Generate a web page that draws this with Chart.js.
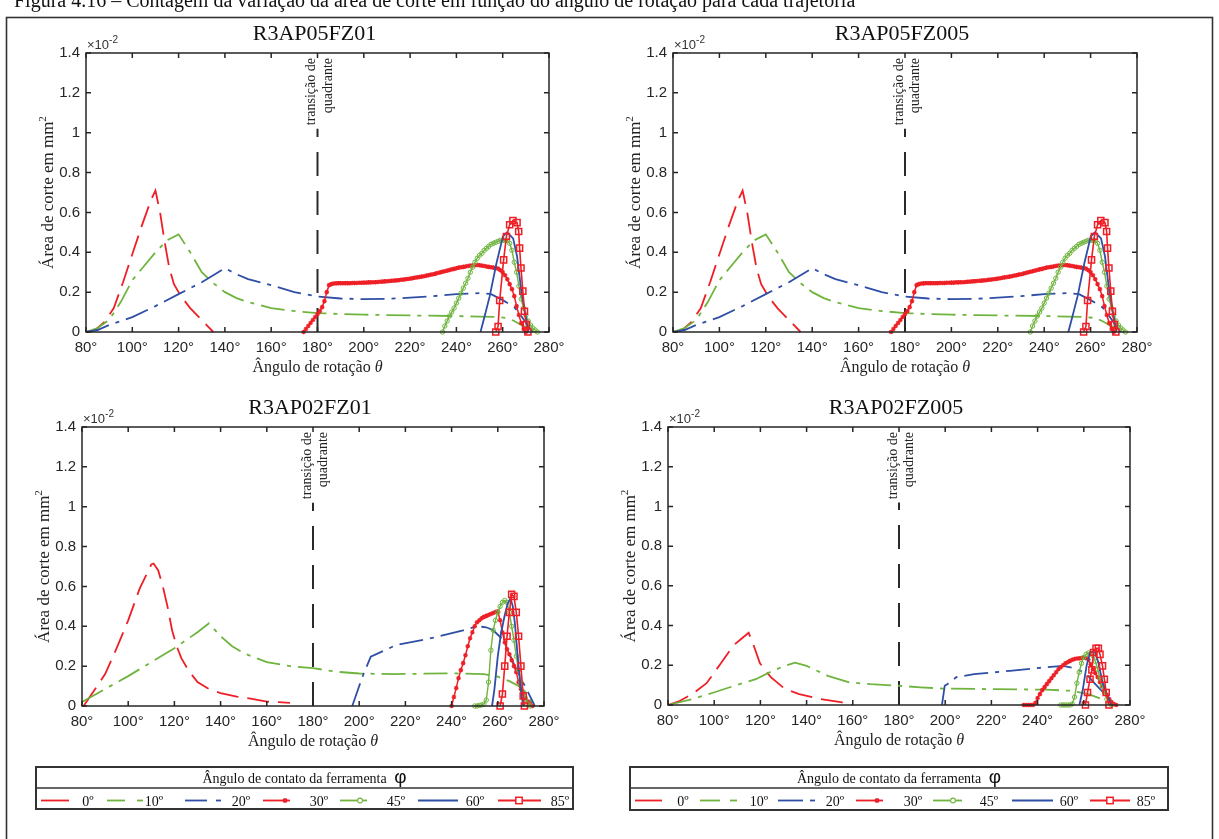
<!DOCTYPE html>
<html><head><meta charset="utf-8">
<script src="https://cdn.jsdelivr.net/npm/chart.js@4.4.1/dist/chart.umd.min.js"></script>
<style>
html,body{margin:0;padding:0;background:#fff;}
#root{position:relative;width:1219px;height:839px;overflow:hidden;background:#fff;}
#overlay{position:absolute;left:0;top:0;pointer-events:none;}
</style></head>
<body><div id="root"></div>
<script>
// ---------------- data ----------------
const X_MIN = 80, X_MAX = 280;
const X_TICKS = [80,100,120,140,160,180,200,220,240,260,280];
const X_TICK_LABELS = ['80°','100°','120°','140°','160°','180°','200°','220°','240°','260°','280°'];
const Y_MIN = 0, Y_MAX = 1.4;
const Y_TICKS = [0,0.2,0.4,0.6,0.8,1,1.2,1.4];
const Y_TICK_LABELS = ['0','0.2','0.4','0.6','0.8','1','1.2','1.4'];
const SERIES_LABELS = ['0º','10º','20º','30º','45º','60º','85º'];
const PLOT_TITLES = ['R3AP05FZ01','R3AP05FZ005','R3AP02FZ01','R3AP02FZ005'];
const QUADRANT_LINE = [[180,0],[180,1.02]];

// Plot 1: R3AP05FZ01 (values x 10^-2 mm^2)
const P1_0 = [[80,0],[84,0.01],[88,0.05],[92,0.12],[96,0.25],[100,0.39],[104,0.53],[108,0.66],[110,0.71],[112,0.6],[114,0.45],[116,0.32],[118,0.24],[121,0.18],[125,0.12],[130,0.06],[135,0]];
const P1_10 = [[80,0],[85,0.02],[90,0.06],[95,0.15],[100,0.26],[105,0.33],[110,0.4],[115,0.46],[120,0.49],[125,0.4],[130,0.3],[135,0.245],[140,0.2],[145,0.17],[150,0.15],[160,0.12],[170,0.105],[180,0.095],[190,0.09],[200,0.087],[220,0.083],[240,0.08],[250,0.077],[258,0.075],[262,0.07],[265,0.055],[268,0.035],[271,0.02],[274,0.008],[276,0]];
const P1_20 = [[80,0],[85,0.01],[90,0.035],[100,0.075],[110,0.13],[120,0.19],[130,0.25],[135,0.285],[140,0.32],[145,0.29],[150,0.265],[160,0.235],[170,0.2],[180,0.178],[190,0.168],[200,0.165],[210,0.166],[220,0.172],[230,0.18],[240,0.19],[250,0.195],[255,0.19],[260,0.16],[265,0.125],[268,0.08],[271,0.03],[273,0]];
const P1_30 = [[174,0],[175,0.015],[176,0.03],[177,0.045],[178,0.06],[179,0.075],[180,0.09],[181,0.105],[182,0.125],[183,0.155],[184,0.2],[185,0.235],[186,0.24],[187,0.243],[188,0.244],[189,0.245],[190,0.245],[191,0.245],[192,0.245],[193,0.245],[194,0.245],[195,0.246],[196,0.246],[197,0.246],[198,0.247],[199,0.247],[200,0.248],[201,0.248],[202,0.249],[203,0.249],[204,0.25],[205,0.25],[206,0.251],[207,0.252],[208,0.253],[209,0.254],[210,0.255],[211,0.256],[212,0.257],[213,0.258],[214,0.259],[215,0.26],[216,0.262],[217,0.263],[218,0.265],[219,0.266],[220,0.268],[221,0.27],[222,0.272],[223,0.274],[224,0.276],[225,0.278],[226,0.28],[227,0.283],[228,0.285],[229,0.288],[230,0.29],[231,0.293],[232,0.296],[233,0.299],[234,0.302],[235,0.305],[236,0.308],[237,0.311],[238,0.314],[239,0.317],[240,0.32],[241,0.323],[242,0.325],[243,0.327],[244,0.329],[245,0.331],[246,0.333],[247,0.334],[248,0.335],[249,0.336],[250,0.335],[251,0.333],[252,0.331],[253,0.329],[254,0.327],[255,0.325],[256,0.323],[257,0.321],[258,0.318],[259,0.31],[260,0.3],[261,0.285],[262,0.265],[263,0.24],[264,0.215],[265,0.18],[266,0.13],[267,0.085],[268,0.045],[269,0.015],[270,0]];
const P1_45 = [[234,0],[235,0.03],[236,0.055],[237,0.08],[238,0.1],[239,0.12],[240,0.145],[241,0.17],[242,0.195],[243,0.22],[244,0.245],[245,0.27],[246,0.3],[247,0.325],[248,0.35],[249,0.37],[250,0.385],[251,0.395],[252,0.41],[253,0.42],[254,0.43],[255,0.44],[256,0.445],[257,0.45],[258,0.455],[259,0.46],[260,0.46],[261,0.46],[262,0.458],[263,0.445],[264,0.41],[265,0.35],[266,0.3],[267,0.23],[268,0.165],[269,0.12],[270,0.085],[271,0.055],[272,0.035],[273,0.02],[274,0.01],[275,0]];
const P1_60 = [[250.4,0],[252,0.07],[254.4,0.18],[257.3,0.345],[260.1,0.48],[261.9,0.5],[264.5,0.47],[266.2,0.38],[268,0.21],[270.2,0.06],[271.2,0]];
const P1_85 = [[257,0],[258,0.028],[258.7,0.158],[260.4,0.362],[261.6,0.479],[263,0.538],[264.4,0.559],[266.2,0.549],[266.9,0.504],[267.3,0.421],[267.9,0.321],[268.7,0.205],[269.4,0.104],[270.2,0.037],[270.9,0]];

// Plot 2: R3AP05FZ005 (read as identical to plot 1)
const P2_0 = P1_0, P2_10 = P1_10, P2_20 = P1_20, P2_30 = P1_30, P2_45 = P1_45, P2_60 = P1_60, P2_85 = P1_85;

// Plot 3: R3AP02FZ01
const P3_0 = [[80.7,0],[86,0.09],[90,0.16],[95,0.29],[100,0.43],[105,0.59],[110,0.71],[111,0.715],[113,0.68],[115,0.6],[117,0.5],[119,0.38],[121,0.3],[123,0.24],[126,0.18],[130,0.12],[135,0.085],[140,0.065],[147,0.047],[153,0.037],[160,0.022],[165,0.019],[170,0.016]];
const P3_10 = [[80,0.02],[90,0.085],[100,0.15],[110,0.22],[120,0.29],[130,0.37],[135,0.415],[140,0.35],[145,0.3],[150,0.265],[160,0.22],[170,0.2],[180,0.19],[190,0.172],[200,0.163],[215,0.16],[240,0.164],[254,0.16],[260,0.147],[265,0.125],[269,0.1],[272,0.07],[274,0.03],[275.5,0]];
const P3_20 = [[197,0],[200,0.1],[202,0.164],[205,0.247],[216,0.306],[231,0.34],[245,0.38],[251,0.4],[255,0.395],[258,0.38],[262.5,0.33],[267,0.21],[270,0.14],[272.6,0.08],[274.8,0.03],[276,0]];
const P3_30 = [[240,0],[241,0.045],[242,0.09],[243,0.14],[244,0.18],[245,0.215],[246,0.255],[247,0.3],[248,0.34],[249,0.37],[250,0.4],[251,0.42],[252,0.43],[253,0.44],[254,0.447],[255,0.452],[256,0.457],[257,0.462],[258,0.467],[259,0.472],[260,0.475],[261,0.43],[262,0.37],[263,0.32],[264,0.285],[265,0.26],[266,0.23],[267,0.2],[268,0.17],[269,0.12],[270,0.085],[271,0.06],[272,0.04],[273,0.022],[274,0.01],[275,0]];
const P3_45 = [[250,0],[251,0],[252,0.003],[253,0.005],[254,0.01],[255,0.03],[256,0.12],[257,0.28],[258,0.38],[259,0.43],[260,0.47],[261,0.5],[262,0.52],[263,0.53],[264,0.52],[265,0.47],[266,0.4],[267,0.33],[268,0.25],[269,0.18],[270,0.12],[271,0.07],[272,0.035],[273,0.01],[274,0]];
const P3_60 = [[257.5,0],[258.5,0.08],[260,0.25],[261.4,0.365],[262.9,0.45],[264.3,0.515],[265.5,0.54],[266.5,0.5],[267.4,0.415],[268.6,0.25],[270,0.08],[271,0]];
const P3_85 = [[261,0],[262,0.06],[263,0.2],[264,0.35],[265,0.47],[266,0.56],[267,0.55],[268,0.47],[269,0.35],[270,0.2],[271,0.05],[271.5,0]];

// Plot 4: R3AP02FZ005
const P4_0 = [[80,0],[85,0.02],[90.5,0.055],[96.7,0.11],[102.9,0.21],[108.3,0.3],[111.4,0.33],[114.9,0.364],[116.8,0.31],[119.8,0.21],[124.5,0.14],[130.7,0.08],[136.8,0.055],[146.1,0.03],[155.4,0.013],[160,0]];
const P4_10 = [[80,0],[90.5,0.03],[99.8,0.063],[108.8,0.097],[118,0.13],[125,0.17],[130,0.195],[135,0.213],[140,0.197],[149.2,0.147],[158.5,0.114],[167.7,0.105],[179.8,0.097],[189.3,0.089],[198.6,0.083],[220,0.08],[243.4,0.077],[254.2,0.072],[262,0.055],[269.7,0.022],[274.3,0]];
const P4_20 = [[198.6,0],[199.8,0.097],[200.9,0.105],[204.8,0.14],[212.5,0.155],[228,0.172],[243.4,0.19],[251.1,0.197],[254.2,0.19],[260.4,0.165],[265,0.105],[269.7,0.047],[272.7,0.01],[273.5,0]];
const P4_30 = [[234,0],[235,0],[236,0],[237,0],[238,0],[239,0.01],[240,0.035],[241,0.055],[242,0.075],[243,0.09],[244,0.105],[245,0.12],[246,0.135],[247,0.15],[248,0.165],[249,0.18],[250,0.19],[251,0.2],[252,0.21],[253,0.215],[254,0.222],[255,0.228],[256,0.232],[257,0.234],[258,0.235],[259,0.237],[260,0.238],[261,0.236],[262,0.228],[263,0.205],[264,0.18],[265,0.16],[266,0.14],[267,0.115],[268,0.095],[269,0.07],[270,0.05],[271,0.03],[272,0.015],[273,0.005],[274,0]];
const P4_45 = [[250,0],[251,0],[252,0],[253,0],[254,0],[255,0.005],[256,0.04],[257,0.11],[258,0.165],[259,0.21],[260,0.24],[261,0.255],[262,0.262],[263,0.26],[264,0.247],[265,0.22],[266,0.18],[267,0.135],[268,0.095],[269,0.06],[270,0.03],[271,0.012],[272,0]];
const P4_60 = [[258.1,0],[259.6,0.08],[261.2,0.197],[262.7,0.264],[264.7,0.272],[266.3,0.214],[268.1,0.114],[270.5,0.038],[272,0]];
const P4_85 = [[260.7,0],[261.6,0.063],[262.7,0.13],[263.5,0.177],[264.2,0.264],[265.3,0.285],[266.3,0.285],[267,0.255],[268.1,0.197],[268.9,0.13],[269.7,0.063],[270.9,0]];

const PLOT_SERIES = [
  [P1_0,P1_10,P1_20,P1_30,P1_45,P1_60,P1_85],
  [P2_0,P2_10,P2_20,P2_30,P2_45,P2_60,P2_85],
  [P3_0,P3_10,P3_20,P3_30,P3_45,P3_60,P3_85],
  [P4_0,P4_10,P4_20,P4_30,P4_45,P4_60,P4_85]
];

// ---------------- styles & layout ----------------
const RED = '#ee1f26', GREEN = '#6fb43f', BLUE = '#2f4fa6';
const STYLES = [
  {color:RED,   width:1.8, dash:[22,9]},
  {color:GREEN, width:1.8, dash:[24,7,4,7]},
  {color:BLUE,  width:1.8, dash:[24,7,4,7]},
  {color:RED,   width:1.5, dash:[], pointStyle:'star', radius:2.3, pbw:1.2, fill:RED},
  {color:GREEN, width:1.4, dash:[], pointStyle:'circle', radius:2.2, pbw:1, fill:'rgba(255,255,255,0)'},
  {color:BLUE,  width:1.8, dash:[], },
  {color:RED,   width:1.6, dash:[], pointStyle:'rect', radius:4.3, pbw:1.5, fill:'rgba(255,255,255,0)'}
];
const LAYOUT = [
  {left:86,  top:53,  w:463, h:279},
  {left:673, top:53,  w:464, h:279},
  {left:82,  top:427, w:462, h:279},
  {left:668, top:427, w:462, h:278}
];
const SANS = "'Liberation Sans', Arial, Helvetica, sans-serif";
const SERIF = "'Liberation Serif', 'Times New Roman', serif";

const root = document.getElementById('root');

const boxPlugin = {
  id: 'matlabBox',
  afterDraw(chart) {
    const {ctx, chartArea: a, scales} = chart;
    ctx.save();
    ctx.strokeStyle = '#262626';
    ctx.lineWidth = 1.5;
    ctx.setLineDash([]);
    ctx.strokeRect(a.left, a.top, a.right - a.left, a.bottom - a.top);
    const T = 5;
    ctx.beginPath();
    scales.x.ticks.forEach(t => {
      const x = scales.x.getPixelForValue(t.value);
      ctx.moveTo(x, a.bottom); ctx.lineTo(x, a.bottom - T);
      ctx.moveTo(x, a.top); ctx.lineTo(x, a.top + T);
    });
    scales.y.ticks.forEach(t => {
      const y = scales.y.getPixelForValue(t.value);
      ctx.moveTo(a.left, y); ctx.lineTo(a.left + T, y);
      ctx.moveTo(a.right, y); ctx.lineTo(a.right - T, y);
    });
    ctx.stroke();
    ctx.restore();
  }
};

function makeDataset(points, st, order) {
  return {
    data: points.map(p => ({x: p[0], y: p[1]})),
    borderColor: st.color,
    borderWidth: st.width,
    borderDash: st.dash,
    pointStyle: st.pointStyle || 'circle',
    pointRadius: st.radius || 0,
    pointHoverRadius: st.radius || 0,
    pointBorderColor: st.color,
    pointBackgroundColor: st.fill || st.color,
    pointBorderWidth: st.pbw || 1,
    fill: false, tension: 0, clip: false, order: order
  };
}

function config(i) {
  const series = PLOT_SERIES[i];
  const datasets = series.map((pts, k) => makeDataset(pts, STYLES[k], series.length - k));
  datasets.push({
    data: QUADRANT_LINE.map(p => ({x:p[0], y:p[1]})),
    borderColor: '#2a2a2a', borderWidth: 2, borderDash: [24,15],
    pointRadius: 0, fill: false, tension: 0, order: 20
  });
  return {
    type: 'line',
    data: { datasets },
    plugins: [boxPlugin],
    options: {
      responsive: false, animation: false, events: [],
      layout: { padding: {left: 0, top: 10, right: 25, bottom: 0} },
      plugins: { legend: {display:false}, tooltip: {enabled:false}, title: {display:false} },
      scales: {
        x: {
          type: 'linear', min: X_MIN, max: X_MAX,
          afterBuildTicks: s => { s.ticks = X_TICKS.map(v => ({value: v})); },
          afterFit: s => { s.height = 30; },
          grid: {display:false, drawTicks:false}, border: {display:false},
          ticks: { padding: 7, color: '#262626', font: {family: SANS, size: 15}, maxRotation: 0, autoSkip: false,
                   callback: (v, idx) => X_TICK_LABELS[idx] }
        },
        y: {
          type: 'linear', min: Y_MIN, max: Y_MAX,
          afterBuildTicks: s => { s.ticks = Y_TICKS.map(v => ({value: v})); },
          afterFit: s => { s.width = 60; },
          grid: {display:false, drawTicks:false}, border: {display:false},
          ticks: { padding: 6, color: '#262626', font: {family: SANS, size: 15}, autoSkip: false,
                   callback: (v, idx) => Y_TICK_LABELS[idx] }
        }
      }
    }
  };
}

function buildChart(i) {
  const L = LAYOUT[i];
  const canvas = document.createElement('canvas');
  canvas.style.position = 'absolute';
  root.appendChild(canvas);
  let ins = {l: 60, t: 20, r: 40, b: 30};
  let chart = null;
  for (let pass = 0; pass < 2; pass++) {
    if (chart) chart.destroy();
    const W = Math.round(L.w + ins.l + ins.r), H = Math.round(L.h + ins.t + ins.b);
    canvas.width = W; canvas.height = H;
    canvas.style.width = W + 'px'; canvas.style.height = H + 'px';
    canvas.style.left = (L.left - ins.l) + 'px';
    canvas.style.top = (L.top - ins.t) + 'px';
    chart = new Chart(canvas, config(i));
    const a = chart.chartArea;
    ins = {l: a.left, t: a.top, r: W - a.right, b: H - a.bottom};
  }
  const a = chart.chartArea;
  const offX = L.left - a.left, offY = L.top - a.top;
  return {chart, offX, offY};
}

const charts = LAYOUT.map((_, i) => buildChart(i));

// ---------------- overlay text (SVG) ----------------
const NS = 'http://www.w3.org/2000/svg';
let svg = `<svg id="overlay" xmlns="${NS}" width="1219" height="839" viewBox="0 0 1219 839">`;
// caption line (cut at the top of the page) and frame
svg += `<text x="14" y="7" font-family="${SERIF}" font-size="20" fill="#111">Figura 4.16 – Contagem da variação da área de corte em função do ângulo de rotação para cada trajetória</text>`;
svg += `<rect x="6.5" y="17.5" width="1206" height="840" fill="none" stroke="#333" stroke-width="1.6"/>`;

charts.forEach((c, i) => {
  const L = LAYOUT[i];
  const xs = c.chart.scales.x;
  const cx = L.left + L.w / 2;
  svg += `<text x="${cx - 3}" y="${L.top - 13}" text-anchor="middle" font-family="${SERIF}" font-size="22" fill="#111">${PLOT_TITLES[i]}</text>`;
  svg += `<text x="${L.left + 1}" y="${L.top - 4}" font-family="${SANS}" font-size="13" fill="#333">×10<tspan dy="-6" font-size="10">-2</tspan></text>`;
  svg += `<text transform="translate(${L.left - 33},${L.top + L.h / 2}) rotate(-90)" text-anchor="middle" font-family="${SERIF}" font-size="17" fill="#222">Área de corte em mm<tspan dy="-7" font-size="11">2</tspan></text>`;
  svg += `<text x="${cx}" y="${L.top + L.h + 40}" text-anchor="middle" font-family="${SERIF}" font-size="16" fill="#222">Ângulo de rotação <tspan font-style="italic">θ</tspan></text>`;
  const x180 = xs.getPixelForValue(QUADRANT_LINE[0][0]) + c.offX;
  svg += `<text transform="translate(${x180 - 2.5},${L.top + 5}) rotate(-90)" text-anchor="end" font-family="${SERIF}" font-size="14" fill="#222">transição de</text>`;
  svg += `<text transform="translate(${x180 + 14},${L.top + 5}) rotate(-90)" text-anchor="end" font-family="${SERIF}" font-size="14" fill="#222">quadrante</text>`;
});

// legends
const LEG_LEFT = [
  {seg:[[5,33]], lx:52}, {seg:[[71,89],[101,107]], lx:118}, {seg:[[149,171],[180,185]], lx:205},
  {seg:[[227,254]], mx:249, lx:283}, {seg:[[304,331]], mx:324, lx:360}, {seg:[[382,422]], lx:439},
  {seg:[[462,505]], mx:483, lx:524}
];
const LEG_RIGHT = [
  {seg:[[5,32]], lx:53}, {seg:[[70,90],[100,107]], lx:129}, {seg:[[148,173],[180,185]], lx:205},
  {seg:[[226,253]], mx:247, lx:283}, {seg:[[303,332]], mx:323, lx:359}, {seg:[[382,423]], lx:439},
  {seg:[[460,500]], mx:480, lx:516}
];
function marker(k, x, y) {
  const st = STYLES[k];
  if (st.pointStyle === 'star') {
    const r = 2.6;
    return `<path d="M${x-r},${y}H${x+r}M${x},${y-r}V${y+r}M${x-r*0.7},${y-r*0.7}L${x+r*0.7},${y+r*0.7}M${x-r*0.7},${y+r*0.7}L${x+r*0.7},${y-r*0.7}" stroke="${st.color}" stroke-width="1.3"/>`;
  }
  if (st.pointStyle === 'circle') return `<circle cx="${x}" cy="${y}" r="2.4" fill="#fff" stroke="${st.color}" stroke-width="1.1"/>`;
  if (st.pointStyle === 'rect') return `<rect x="${x-3.2}" y="${y-3.2}" width="6.4" height="6.4" fill="#fff" stroke="${st.color}" stroke-width="1.5"/>`;
  return '';
}
function legend(x0, y0, w, h, items) {
  let s = `<g transform="translate(${x0},${y0})">`;
  s += `<rect x="0" y="0" width="${w}" height="${h}" fill="#fff" stroke="#333" stroke-width="2"/>`;
  s += `<line x1="0" y1="21" x2="${w}" y2="21" stroke="#333" stroke-width="1.6"/>`;
  s += `<text x="${w/2}" y="16" text-anchor="middle" font-family="${SERIF}" font-size="14" fill="#111">Ângulo de contato da ferramenta <tspan font-family="${SANS}" font-size="19" dx="4">φ</tspan></text>`;
  const ly = 33.5;
  items.forEach((it, k) => {
    const st = STYLES[k];
    it.seg.forEach(sg => {
      s += `<line x1="${sg[0]}" y1="${ly}" x2="${sg[1]}" y2="${ly}" stroke="${st.color}" stroke-width="1.8"/>`;
    });
    if (it.mx !== undefined) s += marker(k, it.mx, ly);
    s += `<text x="${it.lx}" y="${ly + 5}" text-anchor="middle" font-family="${SERIF}" font-size="14" fill="#111">${SERIES_LABELS[k]}</text>`;
  });
  return s + '</g>';
}
svg += legend(36, 767, 537, 42, LEG_LEFT);
svg += legend(630, 767, 538, 43, LEG_RIGHT);
svg += '</svg>';
root.insertAdjacentHTML('beforeend', svg);
</script>
</body></html>
